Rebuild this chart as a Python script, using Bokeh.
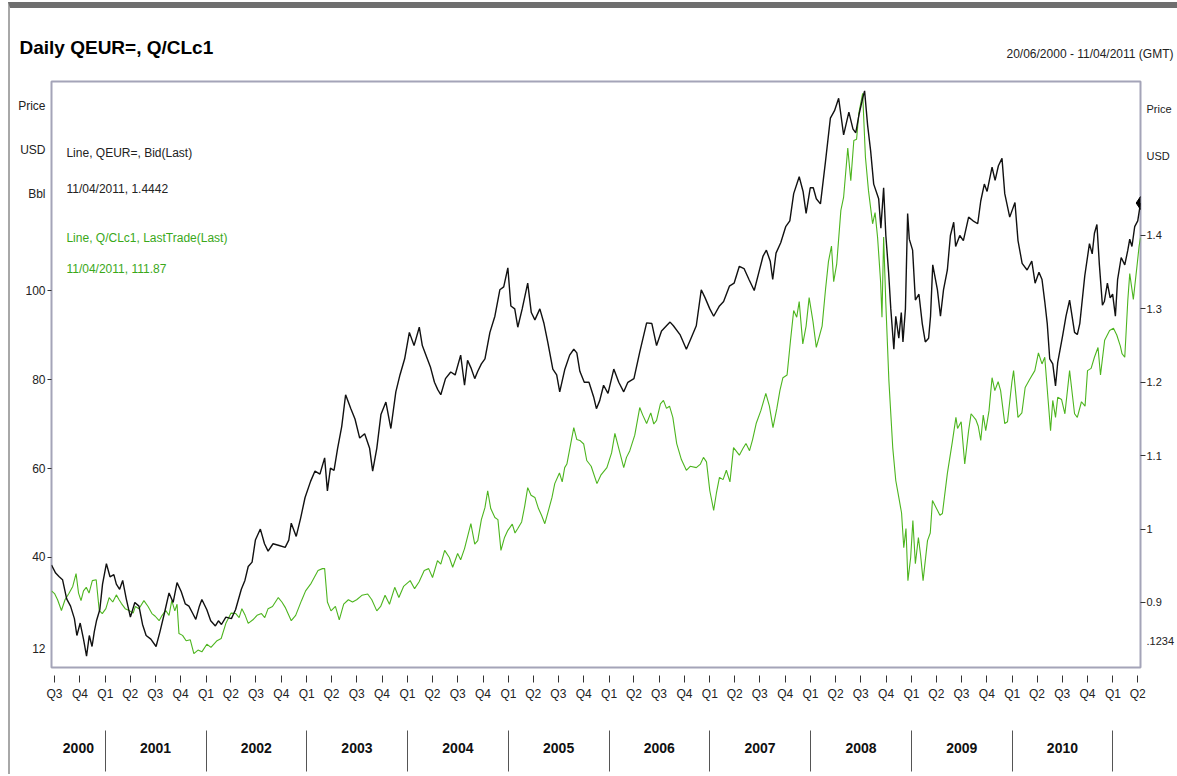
import pandas as pd
from bokeh.plotting import figure
from bokeh.layouts import column
from bokeh.models import (Range1d, LinearAxis, FixedTicker, CustomJSTickFormatter,
                          Label, ColumnDataSource)
from bokeh.embed import file_html
from bokeh.resources import INLINE

FONT = "'Liberation Sans Narrow', 'Liberation Sans', Arial, sans-serif"

# ---------------- data ----------------
eur_dates = ["2000-06-20","2000-07-05","2000-07-18","2000-07-30","2000-08-14","2000-08-28","2000-09-11","2000-09-20","2000-10-02","2000-10-14","2000-10-25","2000-11-04","2000-11-14","2000-11-22","2000-11-30","2000-12-12","2000-12-22",
"2001-01-05","2001-01-18","2001-02-01","2001-02-10","2001-02-22","2001-03-05","2001-03-18","2001-04-02","2001-04-18","2001-05-03","2001-05-16","2001-05-29","2001-06-15","2001-07-04","2001-07-18","2001-08-03","2001-08-20","2001-09-04","2001-09-18","2001-10-03","2001-10-18","2001-10-31","2001-11-14","2001-11-25","2001-12-08","2001-12-17",
"2002-01-04","2002-01-18","2002-02-04","2002-02-15","2002-02-26","2002-03-14","2002-04-03","2002-04-18","2002-05-09","2002-05-22","2002-06-03","2002-06-17","2002-06-29","2002-07-17","2002-08-01","2002-08-14","2002-09-01","2002-09-20","2002-10-15","2002-10-28","2002-11-06","2002-11-24","2002-12-10","2002-12-26",
"2003-01-15","2003-01-31","2003-02-18","2003-03-07","2003-03-17","2003-03-28","2003-04-10","2003-04-23","2003-05-08","2003-05-22","2003-06-10","2003-06-25","2003-07-12","2003-07-30","2003-08-17","2003-08-28","2003-09-12","2003-09-27","2003-10-15","2003-11-02","2003-11-20","2003-12-05","2003-12-22",
"2004-01-08","2004-01-25","2004-02-13","2004-02-24","2004-03-13","2004-03-25","2004-04-08","2004-04-20","2004-05-01","2004-05-18","2004-06-06","2004-06-22","2004-07-12","2004-07-26","2004-08-06","2004-08-18","2004-09-01","2004-09-12","2004-09-25","2004-10-08","2004-10-26","2004-11-13","2004-12-01","2004-12-15","2004-12-30",
"2005-01-10","2005-01-24","2005-02-04","2005-02-20","2005-03-12","2005-03-25","2005-04-07","2005-04-25","2005-05-10","2005-05-24","2005-06-11","2005-06-25","2005-07-06","2005-07-24","2005-08-11","2005-08-26","2005-09-06","2005-09-17","2005-10-03","2005-10-20","2005-11-06","2005-11-16","2005-11-28","2005-12-12","2005-12-28",
"2006-01-18","2006-02-05","2006-02-23","2006-03-10","2006-04-01","2006-04-22","2006-05-17","2006-06-05","2006-06-22","2006-07-10","2006-07-28","2006-08-10","2006-08-22","2006-09-15","2006-10-08","2006-10-25","2006-11-13","2006-12-01","2006-12-15",
"2007-01-01","2007-01-15","2007-02-05","2007-02-20","2007-03-13","2007-03-30","2007-04-18","2007-05-05","2007-05-23","2007-06-11","2007-06-28","2007-07-13","2007-07-25","2007-08-08","2007-08-17","2007-08-29","2007-09-15","2007-10-03","2007-10-18","2007-11-01","2007-11-21","2007-12-05","2007-12-16","2007-12-31",
"2008-01-11","2008-01-22","2008-02-06","2008-02-24","2008-03-13","2008-03-28","2008-04-12","2008-04-30","2008-05-19","2008-06-03","2008-06-13","2008-06-25","2008-07-08","2008-07-15","2008-07-26","2008-08-06","2008-08-17","2008-09-04","2008-09-12","2008-09-22","2008-09-30","2008-10-10","2008-10-18","2008-10-29","2008-11-05","2008-11-16","2008-11-25","2008-12-01","2008-12-10","2008-12-18","2008-12-24",
"2009-01-05","2009-01-15","2009-01-28","2009-02-09","2009-02-20","2009-03-04","2009-03-11","2009-03-19","2009-04-05","2009-04-16","2009-04-27","2009-05-11","2009-05-22","2009-06-03","2009-06-10","2009-06-25","2009-07-08","2009-07-27","2009-08-12","2009-08-29","2009-09-09","2009-09-22","2009-10-02","2009-10-20","2009-10-31","2009-11-12","2009-11-25","2009-12-05","2009-12-23",
"2010-01-11","2010-01-22","2010-02-06","2010-02-24","2010-03-13","2010-03-25","2010-04-08","2010-04-19","2010-04-29","2010-05-08","2010-05-17","2010-05-28","2010-06-07","2010-06-15","2010-07-03","2010-07-15","2010-07-28","2010-08-15","2010-08-25","2010-09-03","2010-09-21","2010-10-08","2010-10-18","2010-10-26","2010-11-04","2010-11-13","2010-11-24","2010-12-01","2010-12-12","2010-12-22","2010-12-31",
"2011-01-10","2011-01-18","2011-01-31","2011-02-13","2011-02-24","2011-03-03","2011-03-11","2011-03-21","2011-04-01","2011-04-11"]
eur_values = [0.951,0.940,0.935,0.931,0.905,0.895,0.878,0.855,0.872,0.850,0.827,0.855,0.840,0.860,0.875,0.890,0.925,
0.953,0.935,0.938,0.925,0.918,0.930,0.905,0.880,0.900,0.895,0.870,0.855,0.850,0.840,0.860,0.885,0.913,0.900,0.927,0.915,0.898,0.895,0.885,0.877,0.895,0.904,
0.890,0.875,0.868,0.875,0.870,0.880,0.878,0.890,0.918,0.930,0.949,0.955,0.985,1.000,0.980,0.970,0.980,0.978,0.975,0.985,1.008,0.990,1.015,1.043,
1.065,1.079,1.075,1.097,1.052,1.083,1.080,1.110,1.140,1.183,1.164,1.150,1.124,1.130,1.110,1.079,1.110,1.156,1.173,1.137,1.187,1.210,1.232,
1.268,1.250,1.275,1.250,1.232,1.220,1.200,1.190,1.183,1.205,1.214,1.210,1.237,1.196,1.230,1.220,1.205,1.215,1.225,1.232,1.268,1.290,1.326,1.330,1.356,
1.304,1.300,1.275,1.300,1.335,1.295,1.285,1.300,1.280,1.254,1.218,1.210,1.187,1.217,1.237,1.245,1.240,1.215,1.200,1.200,1.180,1.164,1.175,1.196,1.185,
1.218,1.200,1.187,1.200,1.205,1.241,1.281,1.280,1.250,1.270,1.277,1.282,1.277,1.265,1.245,1.260,1.277,1.326,1.315,
1.300,1.290,1.304,1.310,1.331,1.335,1.358,1.355,1.340,1.325,1.350,1.372,1.380,1.365,1.340,1.376,1.390,1.412,1.420,1.457,1.480,1.460,1.430,1.465,
1.465,1.450,1.443,1.500,1.560,1.570,1.587,1.537,1.568,1.545,1.540,1.565,1.587,1.597,1.550,1.515,1.470,1.450,1.410,1.465,1.400,1.350,1.300,1.245,1.290,1.260,1.295,1.255,1.300,1.430,1.395,
1.380,1.312,1.320,1.280,1.255,1.260,1.290,1.360,1.326,1.290,1.326,1.353,1.400,1.418,1.385,1.400,1.393,1.425,1.420,1.416,1.447,1.470,1.460,1.493,1.475,1.495,1.505,1.457,1.425,
1.445,1.393,1.362,1.353,1.365,1.335,1.350,1.340,1.310,1.280,1.232,1.225,1.195,1.227,1.264,1.290,1.312,1.268,1.265,1.280,1.345,1.389,1.375,1.403,1.415,1.360,1.305,1.310,1.335,1.315,1.320,
1.290,1.340,1.370,1.360,1.380,1.395,1.385,1.412,1.420,1.4442]

oil_dates = ["2000-06-20","2000-07-01","2000-07-12","2000-07-26","2000-08-08","2000-08-22","2000-09-05","2000-09-17","2000-09-26","2000-10-05","2000-10-14","2000-10-24","2000-11-03","2000-11-15","2000-11-29","2000-12-10","2000-12-21",
"2001-01-03","2001-01-15","2001-01-28","2001-02-10","2001-02-20","2001-02-28","2001-03-14","2001-03-28","2001-04-12","2001-04-20","2001-05-03","2001-05-21","2001-06-05","2001-06-19","2001-07-01","2001-07-15","2001-07-26","2001-08-08","2001-08-20","2001-08-30","2001-09-10","2001-09-18","2001-09-25","2001-10-08","2001-10-21","2001-11-05","2001-11-18","2001-12-03","2001-12-17",
"2002-01-04","2002-01-19","2002-02-10","2002-02-25","2002-03-14","2002-04-02","2002-04-19","2002-05-01","2002-05-11","2002-05-23","2002-06-03","2002-06-20","2002-07-05","2002-07-21","2002-08-02","2002-08-14","2002-08-30","2002-09-20","2002-10-03","2002-10-15","2002-11-06","2002-11-22","2002-12-13","2002-12-28",
"2003-01-17","2003-02-11","2003-02-27","2003-03-07","2003-03-17","2003-03-30","2003-04-15","2003-04-29","2003-05-15","2003-06-01","2003-06-16","2003-07-01","2003-07-20","2003-08-10","2003-08-25","2003-09-12","2003-09-26","2003-10-12","2003-10-28","2003-11-16","2003-12-01","2003-12-18",
"2004-01-11","2004-01-27","2004-02-12","2004-03-02","2004-03-18","2004-04-01","2004-04-19","2004-05-01","2004-05-15","2004-06-01","2004-06-13","2004-07-01","2004-07-12","2004-07-26","2004-08-18","2004-09-01","2004-09-12","2004-09-25","2004-10-08","2004-10-18","2004-10-29","2004-11-13","2004-11-24","2004-12-05","2004-12-18","2004-12-30",
"2005-01-15","2005-01-25","2005-02-04","2005-02-18","2005-03-01","2005-03-12","2005-03-24","2005-04-07","2005-04-20","2005-05-01","2005-05-13","2005-05-28","2005-06-08","2005-06-18","2005-07-05","2005-07-15","2005-07-24","2005-08-01","2005-08-15","2005-08-26","2005-09-06","2005-09-17","2005-10-01","2005-10-12","2005-10-28","2005-11-18","2005-12-02","2005-12-24",
"2006-01-10","2006-01-22","2006-02-05","2006-02-23","2006-03-05","2006-03-17","2006-04-04","2006-04-22","2006-05-03","2006-05-17","2006-06-01","2006-06-12","2006-06-22","2006-07-06","2006-07-17","2006-07-28","2006-08-08","2006-08-20","2006-09-03","2006-09-20","2006-10-08","2006-10-22","2006-11-13","2006-11-28","2006-12-09","2006-12-20",
"2007-01-01","2007-01-15","2007-01-25","2007-02-05","2007-02-18","2007-03-02","2007-03-15","2007-03-28","2007-04-18","2007-05-01","2007-05-12","2007-05-25","2007-06-05","2007-06-18","2007-07-05","2007-07-23","2007-08-05","2007-08-18","2007-09-01","2007-09-12","2007-09-23","2007-10-08","2007-10-20","2007-11-01","2007-11-12","2007-11-21","2007-12-04","2007-12-16","2007-12-27",
"2008-01-10","2008-01-22","2008-02-01","2008-02-12","2008-02-24","2008-03-06","2008-03-17","2008-03-25","2008-04-05","2008-04-20","2008-04-30","2008-05-15","2008-05-26","2008-06-06","2008-06-16","2008-06-24","2008-07-08","2008-07-18","2008-07-29","2008-08-13","2008-08-22","2008-08-31","2008-09-11","2008-09-16","2008-09-22","2008-09-30","2008-10-11","2008-10-25","2008-11-05","2008-11-16","2008-11-26","2008-12-04","2008-12-12","2008-12-19","2008-12-29",
"2009-01-06","2009-01-15","2009-01-26","2009-02-03","2009-02-12","2009-02-28","2009-03-10","2009-03-18","2009-04-05","2009-04-14","2009-04-23","2009-05-11","2009-05-29","2009-06-11","2009-06-17","2009-06-30","2009-07-13","2009-07-27","2009-08-05","2009-08-22","2009-08-31","2009-09-09","2009-09-18","2009-09-27","2009-10-09","2009-10-20","2009-10-30","2009-11-11","2009-11-20","2009-12-05","2009-12-15","2009-12-31",
"2010-01-06","2010-01-22","2010-02-05","2010-02-17","2010-03-05","2010-03-24","2010-04-06","2010-04-19","2010-04-29","2010-05-11","2010-05-20","2010-05-28","2010-06-07","2010-06-15","2010-06-29","2010-07-11","2010-07-28","2010-08-15","2010-08-25","2010-09-09","2010-09-22","2010-10-01","2010-10-14","2010-10-26","2010-11-08","2010-11-17","2010-12-02","2010-12-20",
"2011-01-03","2011-01-15","2011-01-28","2011-02-03","2011-02-13","2011-02-24","2011-03-03","2011-03-10","2011-03-16","2011-03-31","2011-04-06","2011-04-11"]
oil_values = [32.5,31.9,30.5,28.1,30.5,31.9,33.5,36.4,32.0,30.3,32.5,33.3,32.0,34.8,35.0,28.1,27.4,
28.5,31.0,30.0,31.6,30.5,29.7,28.5,28.1,27.5,29.0,28.5,30.3,29.0,27.4,26.8,25.8,27.0,28.1,27.0,30.3,28.0,29.5,22.9,22.5,21.3,21.5,18.4,19.2,18.8,
20.5,19.8,21.3,21.8,25.2,27.5,27.4,26.5,28.5,27.0,25.2,26.0,27.0,27.4,26.5,28.5,29.0,31.0,30.0,28.8,25.8,27.0,30.3,32.5,
34.2,37.1,37.5,37.5,30.0,28.0,29.0,26.0,29.5,30.5,30.0,30.5,31.5,31.8,30.5,28.0,29.0,31.5,29.5,33.3,31.0,33.5,
34.8,33.0,34.5,37.1,37.5,35.5,39.3,38.5,41.6,40.0,37.8,40.9,39.5,42.0,47.6,43.0,43.8,48.5,51.2,55.0,51.0,49.0,48.5,41.6,44.5,46.1,
47.5,45.5,46.5,48.0,51.5,55.7,54.0,53.5,51.0,49.5,47.6,51.0,53.5,56.6,59.0,57.0,60.2,61.0,65.6,69.2,66.5,66.3,65.5,61.8,60.5,56.6,58.5,60.2,
63.5,67.9,64.5,60.2,62.5,64.0,67.5,73.7,72.0,70.1,72.5,70.0,70.8,74.5,75.3,73.5,74.0,71.5,65.6,62.0,59.6,60.5,60.2,61.0,62.5,61.5,
55.0,50.6,54.5,58.0,57.5,59.6,57.0,64.7,63.0,64.5,65.6,64.0,66.5,70.1,73.0,76.9,74.0,69.2,73.5,77.5,80.4,81.0,88.5,95.5,94.0,97.5,88.0,92.0,98.4,
93.0,87.2,89.5,92.0,100.0,106.5,110.0,102.0,106.0,118.0,121.0,132.0,124.7,133.7,134.0,139.8,144.3,130.0,122.5,115.0,117.5,112.0,102.0,94.0,112.0,97.0,79.8,64.7,57.3,53.5,50.0,42.2,46.5,34.8,40.0,
48.3,38.6,44.5,40.5,34.8,43.8,45.5,52.8,50.6,49.5,49.9,58.9,66.0,71.5,69.0,70.5,61.0,68.5,72.3,71.0,69.5,66.3,72.0,68.5,73.0,80.4,77.5,79.5,77.5,70.1,70.5,79.5,
82.0,71.5,72.5,78.2,80.0,82.0,86.0,83.5,85.0,75.5,68.5,75.3,71.5,76.0,75.5,72.3,82.0,72.3,71.5,75.0,74.0,82.0,82.5,85.0,87.2,81.0,88.8,91.0,
91.5,90.0,87.5,85.8,85.0,97.8,103.8,100.7,98.0,106.5,110.0,111.87]

oil_ticks = [40, 60, 80, 100]
eur_ticks = [0.9, 1.0, 1.1, 1.2, 1.3, 1.4]
start_date, end_date = "2000-06-20", "2011-04-11"
title_text = "Daily QEUR=, Q/CLc1"
range_text = "20/06/2000 - 11/04/2011 (GMT)"
legend_lines = ["Line, QEUR=, Bid(Last)", "11/04/2011, 1.4442",
                "Line, Q/CLc1, LastTrade(Last)", "11/04/2011, 111.87"]
left_notes = ["Price", "USD", "Bbl", "12"]
right_notes = ["Price", "USD", ".1234"]


def ms(s):
    return pd.Timestamp(s).value / 1e6


X0, X1 = ms(start_date), ms(end_date)
Y0, Y1 = 15.28, 146.97        # left axis (USD/Bbl)
E0, E1 = 0.8114, 1.6098       # right axis (USD)

# page geometry: content starts at page (10, 8)
OX, OY = 10, 8
W = 1167
HH = 72                        # header height
HM = 694                       # main figure height
FL, FR, FT, FB = 51, 1144, 81, 667   # frame in page pixels
MAIN_TOP = OY + HH

# ---------------- header (title row) ----------------
hdr = figure(width=W, height=HH, output_backend="svg", toolbar_location=None,
             x_range=Range1d(0, W), y_range=Range1d(HH, 0),
             x_axis_type=None, y_axis_type=None,
             min_border=0, min_border_left=0, min_border_right=0,
             min_border_top=0, min_border_bottom=0)
if "frame_align" in hdr.properties():
    hdr.frame_align = False
hdr.outline_line_color = None
hdr.background_fill_color = "white"
hdr.border_fill_color = "white"
hdr.add_layout(Label(x=19 - OX, y=47 - OY, text=title_text, text_font=FONT,
                     text_font_size="19px", text_font_style="bold", text_color="#000000",
                     text_baseline="middle"))
hdr.add_layout(Label(x=1006 - OX, y=53 - OY, text=range_text, text_font=FONT,
                     text_font_size="12px", text_color="#222222", text_baseline="middle"))

# ---------------- main chart ----------------
p = figure(width=W, height=HM, output_backend="svg", toolbar_location=None,
           x_range=Range1d(X0, X1), y_range=Range1d(Y0, Y1),
           x_axis_type=None, y_axis_type=None,
           min_border_left=FL - OX, min_border_right=OX + W - FR,
           min_border_top=FT - MAIN_TOP, min_border_bottom=MAIN_TOP + HM - FB)
if "frame_align" in p.properties():
    p.frame_align = False
p.extra_y_ranges = {"eur": Range1d(E0, E1)}
p.outline_line_color = "#a4a4b8"
p.outline_line_width = 2
p.background_fill_color = "white"
p.border_fill_color = "white"


def Yp(py):
    return Y0 + (FB - py) / (FB - FT) * (Y1 - Y0)


def Ep(py):
    return E0 + (FB - py) / (FB - FT) * (E1 - E0)


def Xp(px):
    return X0 + (px - FL) / (FR - FL) * (X1 - X0)


LOOKUP = """
for (let i = 0; i < vals.length; i++) {
  if (Math.abs(tick - vals[i]) < 1e-7 * Math.max(1, Math.abs(vals[i]))) return labs[i];
}
return '';
"""


def style_axis(ax, size="12px"):
    ax.axis_line_color = None
    ax.major_label_text_font = FONT
    ax.major_label_text_font_size = size
    ax.major_label_text_color = "#222222"
    ax.major_tick_line_color = "#333333"
    ax.minor_tick_line_color = None


# left axis: numeric ticks (drawn as minor tick marks) plus the side notes
l_vals = [float(v) for v in oil_ticks] + [Yp(y) for y in (105, 149, 193, 648)]
l_labs = [str(v) for v in oil_ticks] + left_notes
la = LinearAxis(ticker=FixedTicker(ticks=l_vals, minor_ticks=oil_ticks),
                formatter=CustomJSTickFormatter(args=dict(vals=l_vals, labs=l_labs), code=LOOKUP),
                major_tick_out=4, major_tick_in=0, minor_tick_out=4, minor_tick_in=0,
                major_label_standoff=2)
style_axis(la)
la.major_tick_line_color = None
la.minor_tick_line_color = "#333333"
p.add_layout(la, "left")

r_vals = [float(v) for v in eur_ticks] + [Ep(y) for y in (108, 155, 640)]
r_labs = [("%g" % v) for v in eur_ticks] + right_notes
ra = LinearAxis(y_range_name="eur", ticker=FixedTicker(ticks=r_vals, minor_ticks=eur_ticks),
                formatter=CustomJSTickFormatter(args=dict(vals=r_vals, labs=r_labs), code=LOOKUP),
                major_tick_out=4, major_tick_in=0, minor_tick_out=5, minor_tick_in=0,
                major_label_standoff=1)
style_axis(ra, "11px")
ra.major_tick_line_color = None
ra.minor_tick_line_color = "#333333"
p.add_layout(ra, "right")

# quarter axis
q_ticks = [t.value / 1e6 for t in pd.date_range("2000-07-01", "2011-04-01", freq="QS")]
qa = LinearAxis(ticker=FixedTicker(ticks=q_ticks),
                formatter=CustomJSTickFormatter(code="const d = new Date(tick); return 'Q' + (Math.floor(d.getUTCMonth()/3) + 1);"),
                major_tick_in=-8, major_tick_out=15, major_label_standoff=4)
style_axis(qa)
p.add_layout(qa, "below")

# year axis: labels at year centres, separators as minor ticks at year starts
bounds = [ms(f"{y}-01-01") for y in range(2001, 2012)]
centers = [(X0 + bounds[0]) / 2] + [ms(f"{y}-07-02") for y in range(2001, 2011)]
ya = LinearAxis(ticker=FixedTicker(ticks=centers, minor_ticks=bounds),
                formatter=CustomJSTickFormatter(code="return String(new Date(tick).getUTCFullYear())"),
                major_tick_in=0, major_tick_out=0, minor_tick_in=-27, minor_tick_out=68,
                major_label_standoff=-29)
style_axis(ya, "14px")
ya.major_label_text_font_style = "bold"
ya.major_label_text_color = "#111111"
ya.major_tick_line_color = None
ya.minor_tick_line_color = "#555555"
p.add_layout(ya, "below")

oil_src = ColumnDataSource(dict(x=[ms(d) for d in oil_dates], y=oil_values))
eur_src = ColumnDataSource(dict(x=[ms(d) for d in eur_dates], y=eur_values))
p.line("x", "y", source=oil_src, line_color="#4db51f", line_width=1.1)
p.line("x", "y", source=eur_src, y_range_name="eur", line_color="#111111", line_width=1.4)
p.scatter([ms(eur_dates[-1])], [eur_values[-1]], y_range_name="eur", marker="diamond",
          size=13, color="#000000")

for i, (py, col) in enumerate(zip((152, 188, 237, 268),
                                  ("#222222", "#222222", "#3aa81a", "#3aa81a"))):
    p.add_layout(Label(x=Xp(66), y=Yp(py), text=legend_lines[i], text_font=FONT,
                       text_font_size="12px", text_color=col, text_baseline="middle"))

layout = column(hdr, p, spacing=0,
                styles={"margin-top": "2px", "margin-left": "8px",
                        "border-top": "6px solid #6f6f6f", "border-left": "2px solid #a8a8a8"})

open("out.html", "w").write(file_html(layout, INLINE))
